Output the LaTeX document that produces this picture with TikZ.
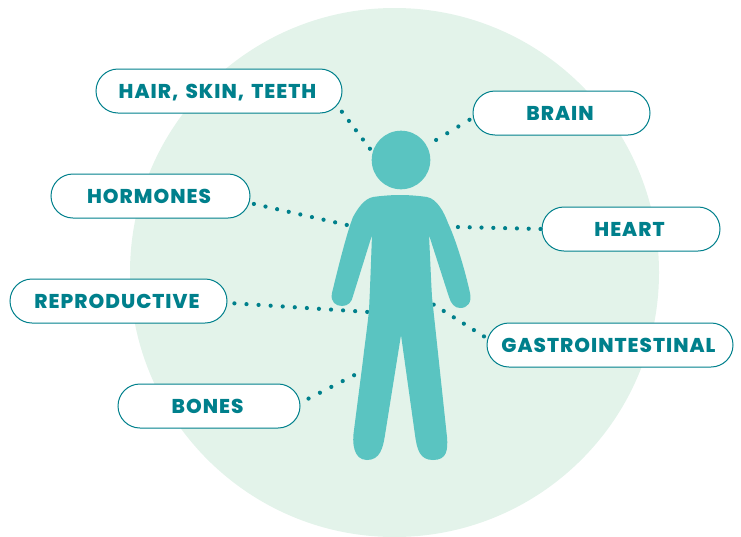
\documentclass[tikz,border=0pt]{standalone}
\usepackage{fontspec}
\setmainfont[LetterSpace=5,WordSpace=1.5,BoldFont={Poppins ExtraBold}]{Poppins}
\usepackage{tikz}
\usetikzlibrary{shapes.misc}
\definecolor{paleBg}{HTML}{E3F3EA}
\definecolor{bodyCol}{HTML}{5AC4C1}
\definecolor{tealCol}{HTML}{00808C}

\begin{document}
\begin{tikzpicture}[x=1pt,y=-1pt,
  pill/.style={draw=tealCol,fill=white,line width=1pt,rounded rectangle,minimum height=44pt,inner sep=0pt,
    text=tealCol,text height=14pt,text depth=0pt,font=\fontsize{20}{22}\selectfont\bfseries,
    execute at end node=\kern3pt},
  dotline/.style={tealCol,line width=4.2pt,line cap=round,dash pattern=on 0pt off #1},
  body/.style={fill=bodyCol,draw=none}
]
\useasboundingbox (0,0) rectangle (741,536);
\fill[paleBg] (394.5,272.5) circle (264.5pt);
\node[pill,minimum width=246pt] (hair) at (219,91) {HAIR, SKIN, TEETH};
\node[pill,minimum width=177pt] (brain) at (561.5,113) {BRAIN};
\node[pill,minimum width=199pt] (hormones) at (150.5,196) {HORMONES};
\node[pill,minimum width=178pt] (heart) at (631,229) {HEART};
\node[pill,minimum width=217pt] (repro) at (118.5,301) {REPRODUCTIVE};
\node[pill,minimum width=246pt] (gastro) at (610,345) {GASTROINTESTINAL};
\node[pill,minimum width=182pt] (bones) at (209,406) {BONES};
\coordinate (hairEnd) at (370.5,149.5);
\coordinate (brainEnd) at (436,140);
\coordinate (hormonesEnd) at (347,225);
\coordinate (heartEnd) at (457.5,227);
\coordinate (reproEnd) at (368.5,312);
\coordinate (gastroEnd) at (433.5,304.5);
\coordinate (bonesEnd) at (354.5,375);
\draw[dotline=11.6pt,shorten <=7.8pt] (hair.-7.2)--(hairEnd);
\draw[dotline=13pt,shorten <=4.1pt] (brain.183.2)--(brainEnd);
\draw[dotline=11.9pt,shorten <=4.6pt] (hormones.-4.7)--(hormonesEnd);
\draw[dotline=11.8pt,shorten <=1pt] (heart.west)--(heartEnd);
\draw[dotline=12.1pt,shorten <=7pt] (repro.-1)--(reproEnd);
\draw[dotline=11.9pt,shorten <=4.1pt] (gastro.177.7)--(gastroEnd);
\draw[dotline=12.8pt,shorten <=9.3pt] (bones.2.4)--(bonesEnd);
% figure
\fill[body] (401,160) circle (29.3pt);
\fill[body] (400,195) .. controls (390,195) and (380,196) .. (373,197)
  .. controls (364,199) and (358,208) .. (353,217)
  .. controls (347,232) and (338,268) .. (332,293)
  .. controls (330,302) and (336,306) .. (342,306)
  .. controls (348,306) and (352,302) .. (353,296)
  -- (372,235)
  .. controls (371,262) and (370,290) .. (369,310)
  .. controls (367,330) and (364,350) .. (363,360)
  -- (354,430)
  .. controls (352,442) and (353,460) .. (367,460)
  .. controls (380,460) and (383,448) .. (385,435)
  -- (401,335)
  -- (415,435)
  .. controls (417,450) and (420,460) .. (433,460)
  .. controls (447,460) and (448,450) .. (447,437)
  -- (432,297)
  .. controls (431,280) and (430,255) .. (429,235)
  -- (449,297)
  .. controls (451,304) and (455,308) .. (460,308)
  .. controls (468,308) and (472,302) .. (470,293)
  .. controls (465,270) and (456,240) .. (448,223)
  .. controls (444,212) and (437,199) .. (427,197)
  .. controls (420,196) and (410,195) .. (400,195) -- cycle;
\end{tikzpicture}
\end{document}
